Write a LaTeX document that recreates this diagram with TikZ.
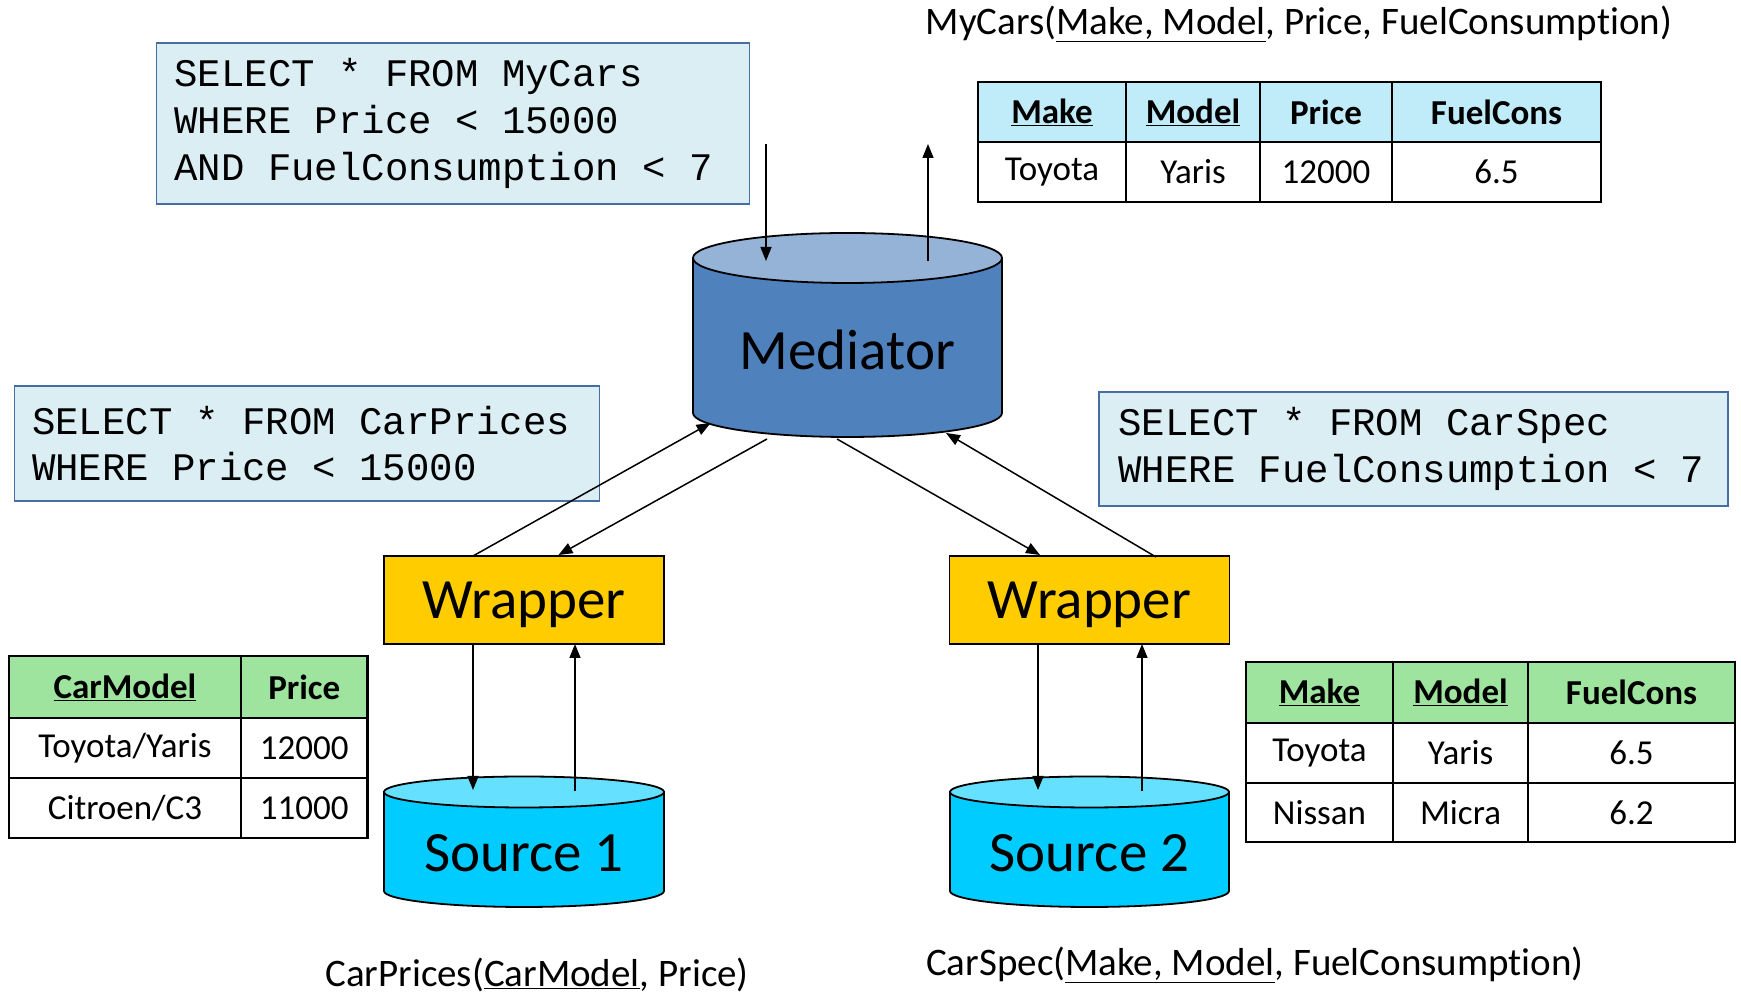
\documentclass[tikz,border=0pt]{standalone}
\usepackage{fontspec}
\setmainfont{Carlito}[Ligatures={NoCommon}]
\setmonofont{Liberation Mono}
\usetikzlibrary{arrows.meta}
\newcommand\sqlsp{\spaceskip=23.4pt plus 0pt minus 0pt\relax}
\newcommand\fuelc{FuelConsumpt\kern0pt ion}
\definecolor{sqlfill}{RGB}{219,238,244}
\definecolor{sqlline}{RGB}{70,110,160}
\definecolor{medbody}{RGB}{79,129,189}
\definecolor{medtop}{RGB}{149,179,215}
\definecolor{wrapfill}{RGB}{255,204,0}
\definecolor{srcbody}{RGB}{0,204,255}
\definecolor{srctop}{RGB}{102,224,255}
\definecolor{bluehead}{RGB}{192,236,250}
\definecolor{greenhead}{RGB}{158,228,158}
\tikzset{
  x=1pt, y=1pt,
  sqlbox/.style={draw=sqlline, fill=sqlfill, line width=1.3pt, inner sep=0pt, outer sep=0pt,
    align=left, font=\ttfamily\fontsize{39}{46.7}\selectfont},
  wrapbox/.style={draw=black, fill=wrapfill, line width=1.5pt, inner sep=0pt, outer sep=0pt,
    minimum width=280pt, minimum height=88pt, text depth=0pt, font=\fontsize{57}{60}\selectfont},
  biglabel/.style={inner sep=0pt, font=\fontsize{57}{60}\selectfont},
  cyl/.style={draw=black, line width=1.8pt},
  cell/.style={draw=black, line width=2.2pt, inner sep=0pt, outer sep=0pt, font=\fontsize{35}{40}\selectfont},
  hcell/.style={cell, font=\bfseries\fontsize{35}{40}\selectfont},
  title/.style={inner sep=0pt, font=\fontsize{39}{46}\selectfont},
  arr/.style={line width=1.5pt, -{Triangle[length=14pt,width=11pt]}}
}
\begin{document}
\begin{tikzpicture}
\useasboundingbox (0,0) rectangle (1741,1000);
\fill[white] (0,0) rectangle (1741,1000);

% SQL boxes
\node[sqlbox, minimum width=593pt, minimum height=161pt, text width=557pt] (q1) at (453,876.5)
  {\sqlsp SELECT * FROM MyCars\\WHERE Price < 15000\\AND FuelConsumption < 7};
\node[sqlbox, minimum width=585pt, minimum height=115pt, text width=550pt] (q2) at (307,556.5)
  {\sqlsp SELECT * FROM CarPrices\\WHERE Price < 15000};
\node[sqlbox, minimum width=629pt, minimum height=114pt, text width=590pt] (q3) at (1413.5,551)
  {\sqlsp SELECT * FROM CarSpec\\WHERE FuelConsumption < 7};

% Mediator cylinder
\filldraw[cyl, fill=medbody] (693,742) -- (693,587)
  arc[start angle=180, end angle=360, x radius=154.5pt, y radius=24pt] -- (1002,742) -- cycle;
\filldraw[cyl, fill=medtop] (847.5,742) ellipse[x radius=154.5pt, y radius=25pt];
\node[biglabel] (med) at (847.5,650) {Mediator};

% Wrappers
\node[wrapbox] (w1) at (524,400) {Wrapper};
\node[wrapbox] (w2) at (1089.5,400) {Wrapper};

% Source cylinders
\filldraw[cyl, fill=srcbody] (384,208) -- (384,109)
  arc[start angle=180, end angle=360, x radius=140pt, y radius=16pt] -- (664,208) -- cycle;
\filldraw[cyl, fill=srctop] (524,208) ellipse[x radius=140pt, y radius=15.5pt];
\node[biglabel] (s1) at (524,147) {Source 1};
\filldraw[cyl, fill=srcbody] (950,208) -- (950,109)
  arc[start angle=180, end angle=360, x radius=139.5pt, y radius=16pt] -- (1229,208) -- cycle;
\filldraw[cyl, fill=srctop] (1089.5,208) ellipse[x radius=139.5pt, y radius=15.5pt];
\node[biglabel] (s2) at (1089.5,147) {Source 2};

% connector end points
\coordinate (qin) at (766,856);
\coordinate (medin) at (766,739);
\coordinate (medout) at (928,739);
\coordinate (resout) at (928,856);
\coordinate (a1s) at (473,444);
\coordinate (a1e) at (710.6,577);
\coordinate (b1s) at (767,561);
\coordinate (b1e) at (558.5,445);
\coordinate (c2s) at (837,561);
\coordinate (c2e) at (1040,445);
\coordinate (d2s) at (1156,443);
\coordinate (d2e) at (946,567);
\coordinate (s1in) at (473,210);
\coordinate (s1out) at (575,209);
\coordinate (s2in) at (1038,210);
\coordinate (s2out) at (1142,209);

\draw[arr] (qin) -- (medin);
\draw[arr] (medout) -- (resout);
\draw[arr] (a1s) -- (a1e);
\draw[arr] (b1s) -- (b1e);
\draw[arr] (c2s) -- (c2e);
\draw[arr] (d2s) -- (d2e);
\draw[arr] (w1.south -| s1in) -- (s1in);
\draw[arr] (s1out) -- (w1.south -| s1out);
\draw[arr] (w2.south -| s2in) -- (s2in);
\draw[arr] (s2out) -- (w2.south -| s2out);

% Table MyCars
\node[hcell, fill=bluehead, minimum width=148pt, minimum height=60pt] (m11) at (1052,888) {\underline{Make}};
\node[hcell, fill=bluehead, minimum width=134pt, minimum height=60pt] (m12) at (1193,888) {\underline{Model}};
\node[hcell, fill=bluehead, minimum width=132pt, minimum height=60pt] (m13) at (1326,888) {Price};
\node[hcell, fill=bluehead, minimum width=209pt, minimum height=60pt] (m14) at (1496.5,888) {FuelCons};
\node[cell, minimum width=148pt, minimum height=60pt] (m21) at (1052,828) {Toyota};
\node[cell, minimum width=134pt, minimum height=60pt] (m22) at (1193,828) {Yaris};
\node[cell, minimum width=132pt, minimum height=60pt] (m23) at (1326,828) {12000};
\node[cell, minimum width=209pt, minimum height=60pt] (m24) at (1496.5,828) {6.5};

% Table CarPrices
\node[hcell, fill=greenhead, minimum width=232pt, minimum height=62pt] (p11) at (125,313) {\underline{CarModel}};
\node[hcell, fill=greenhead, minimum width=126.5pt, minimum height=62pt] (p12) at (304.25,313) {Price};
\node[cell, minimum width=232pt, minimum height=60pt] (p21) at (125,252) {Toyota/Yaris};
\node[cell, minimum width=126.5pt, minimum height=60pt] (p22) at (304.25,252) {12000};
\node[cell, minimum width=232pt, minimum height=60pt] (p31) at (125,192) {Citroen/C3};
\node[cell, minimum width=126.5pt, minimum height=60pt] (p32) at (304.25,192) {11000};

% Table CarSpec
\node[hcell, fill=greenhead, minimum width=147pt, minimum height=61pt] (c11) at (1319.5,307.5) {\underline{Make}};
\node[hcell, fill=greenhead, minimum width=135pt, minimum height=61pt] (c12) at (1460.5,307.5) {\underline{Model}};
\node[hcell, fill=greenhead, minimum width=207pt, minimum height=61pt] (c13) at (1631.5,307.5) {FuelCons};
\node[cell, minimum width=147pt, minimum height=60pt] (c21) at (1319.5,247) {Toyota};
\node[cell, minimum width=135pt, minimum height=60pt] (c22) at (1460.5,247) {Yaris};
\node[cell, minimum width=207pt, minimum height=60pt] (c23) at (1631.5,247) {6.5};
\node[cell, minimum width=147pt, minimum height=59pt] (c31) at (1319.5,187.5) {Nissan};
\node[cell, minimum width=135pt, minimum height=59pt] (c32) at (1460.5,187.5) {Micra};
\node[cell, minimum width=207pt, minimum height=59pt] (c33) at (1631.5,187.5) {6.2};

% Titles
\node[title] (t1) at (1299,976) {MyCars(\underline{Make, Model}, Price, \fuelc)};
\node[title] (t2) at (537,25) {CarPrices(\underline{CarModel}, Price)};
\node[title] (t3) at (1255,35) {CarSpec(\underline{Make, Model}, \fuelc)};
\end{tikzpicture}
\end{document}
